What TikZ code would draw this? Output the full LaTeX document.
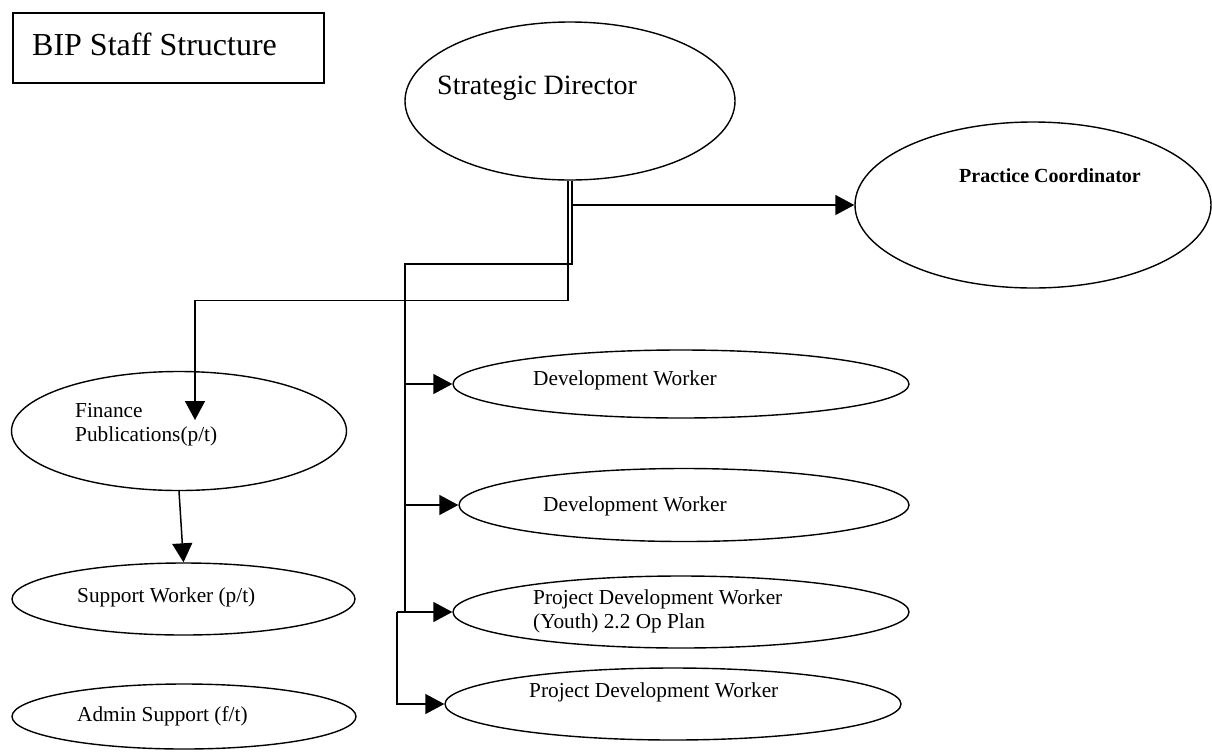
\documentclass[tikz,border=0pt]{standalone}
\usepackage{fontspec}
\setmainfont{Liberation Serif}
\usetikzlibrary{shapes.geometric, arrows.meta}

\begin{document}
\begin{tikzpicture}[x=1pt, y=-1pt]

  \tikzstyle{staff} = [ellipse, draw=black, line width=1.4pt, inner sep=0pt]
  \tikzstyle{txt}   = [anchor=base west, inner sep=0pt, align=left, font=\fontsize{21.3}{24}\selectfont]
  \tikzstyle{wire}  = [line width=1.5pt]
  \tikzstyle{arrow} = [wire, -{Triangle[length=19pt, width=20pt]}]

  \useasboundingbox (0,0) rectangle (1212,753);

  \node (title) [rectangle, draw=black, line width=1.5pt, anchor=north west, minimum width=311pt, minimum height=70pt] at (12,12) {};
  \node (titletext) [txt, font=\fontsize{32}{38}\selectfont] at (32,55) {BIP Staff Structure};

  \node (sd) [staff, minimum width=330pt, minimum height=158pt] at (570,101) {};
  \node (sdtext) [txt, font=\fontsize{28}{34}\selectfont] at (437,94) {Strategic Director};

  \node (pc) [staff, minimum width=356pt, minimum height=166pt] at (1033,205) {};
  \node (pctext) [txt, font=\fontsize{20}{24}\selectfont\bfseries] at (959,182) {Practice Coordinator};

  \node (finance) [staff, minimum width=335pt, minimum height=119pt] at (179,431) {};
  \node (financetext) [txt] at (75,441) {Finance\\Publications(p/t)};

  \node (sw) [staff, minimum width=343pt, minimum height=72pt] at (183.5,599) {};
  \node (swtext) [txt] at (77,602) {Support Worker (p/t)};

  \node (admin) [staff, minimum width=344pt, minimum height=65pt] at (184,716.5) {};
  \node (admintext) [txt] at (77,721) {Admin Support (f/t)};

  \node (dw1) [staff, minimum width=456pt, minimum height=68pt] at (681,384) {};
  \node (dw1text) [txt] at (533,385) {Development Worker};

  \node (dw2) [staff, minimum width=450pt, minimum height=73pt] at (684,505) {};
  \node (dw2text) [txt] at (543,511) {Development Worker};

  \node (pdwy) [staff, minimum width=456pt, minimum height=72pt] at (681,612) {};
  \node (pdwytext) [txt] at (533,628) {Project Development Worker\\(Youth) 2.2 Op Plan};

  \node (pdw) [staff, minimum width=456pt, minimum height=72pt] at (673,704) {};
  \node (pdwtext) [txt] at (529,697) {Project Development Worker};

  \coordinate (bus) at (405,264);
  \coordinate (fintip) at ([xshift=16pt, yshift=11pt]finance.center);

  \draw [arrow] ([xshift=2pt]sd.south) |- (pc.west);
  \draw [arrow] ([xshift=-2pt]sd.south) -- ++(0,120) -| (fintip);
  \draw [arrow] (finance.south) -- (sw.north);

  \draw [wire] ([xshift=2pt]sd.south) |- (bus) -- (bus |- pdwy.west);
  \draw [arrow] (bus |- dw1.west) -- (dw1.west);
  \draw [arrow] (bus |- dw2.west) -- (dw2.west);
  \draw [arrow] ([xshift=-8pt]bus |- pdwy.west) -- (pdwy.west);
  \draw [arrow] ([xshift=-8pt]bus |- pdwy.west) |- (pdw.west);

\end{tikzpicture}
\end{document}
